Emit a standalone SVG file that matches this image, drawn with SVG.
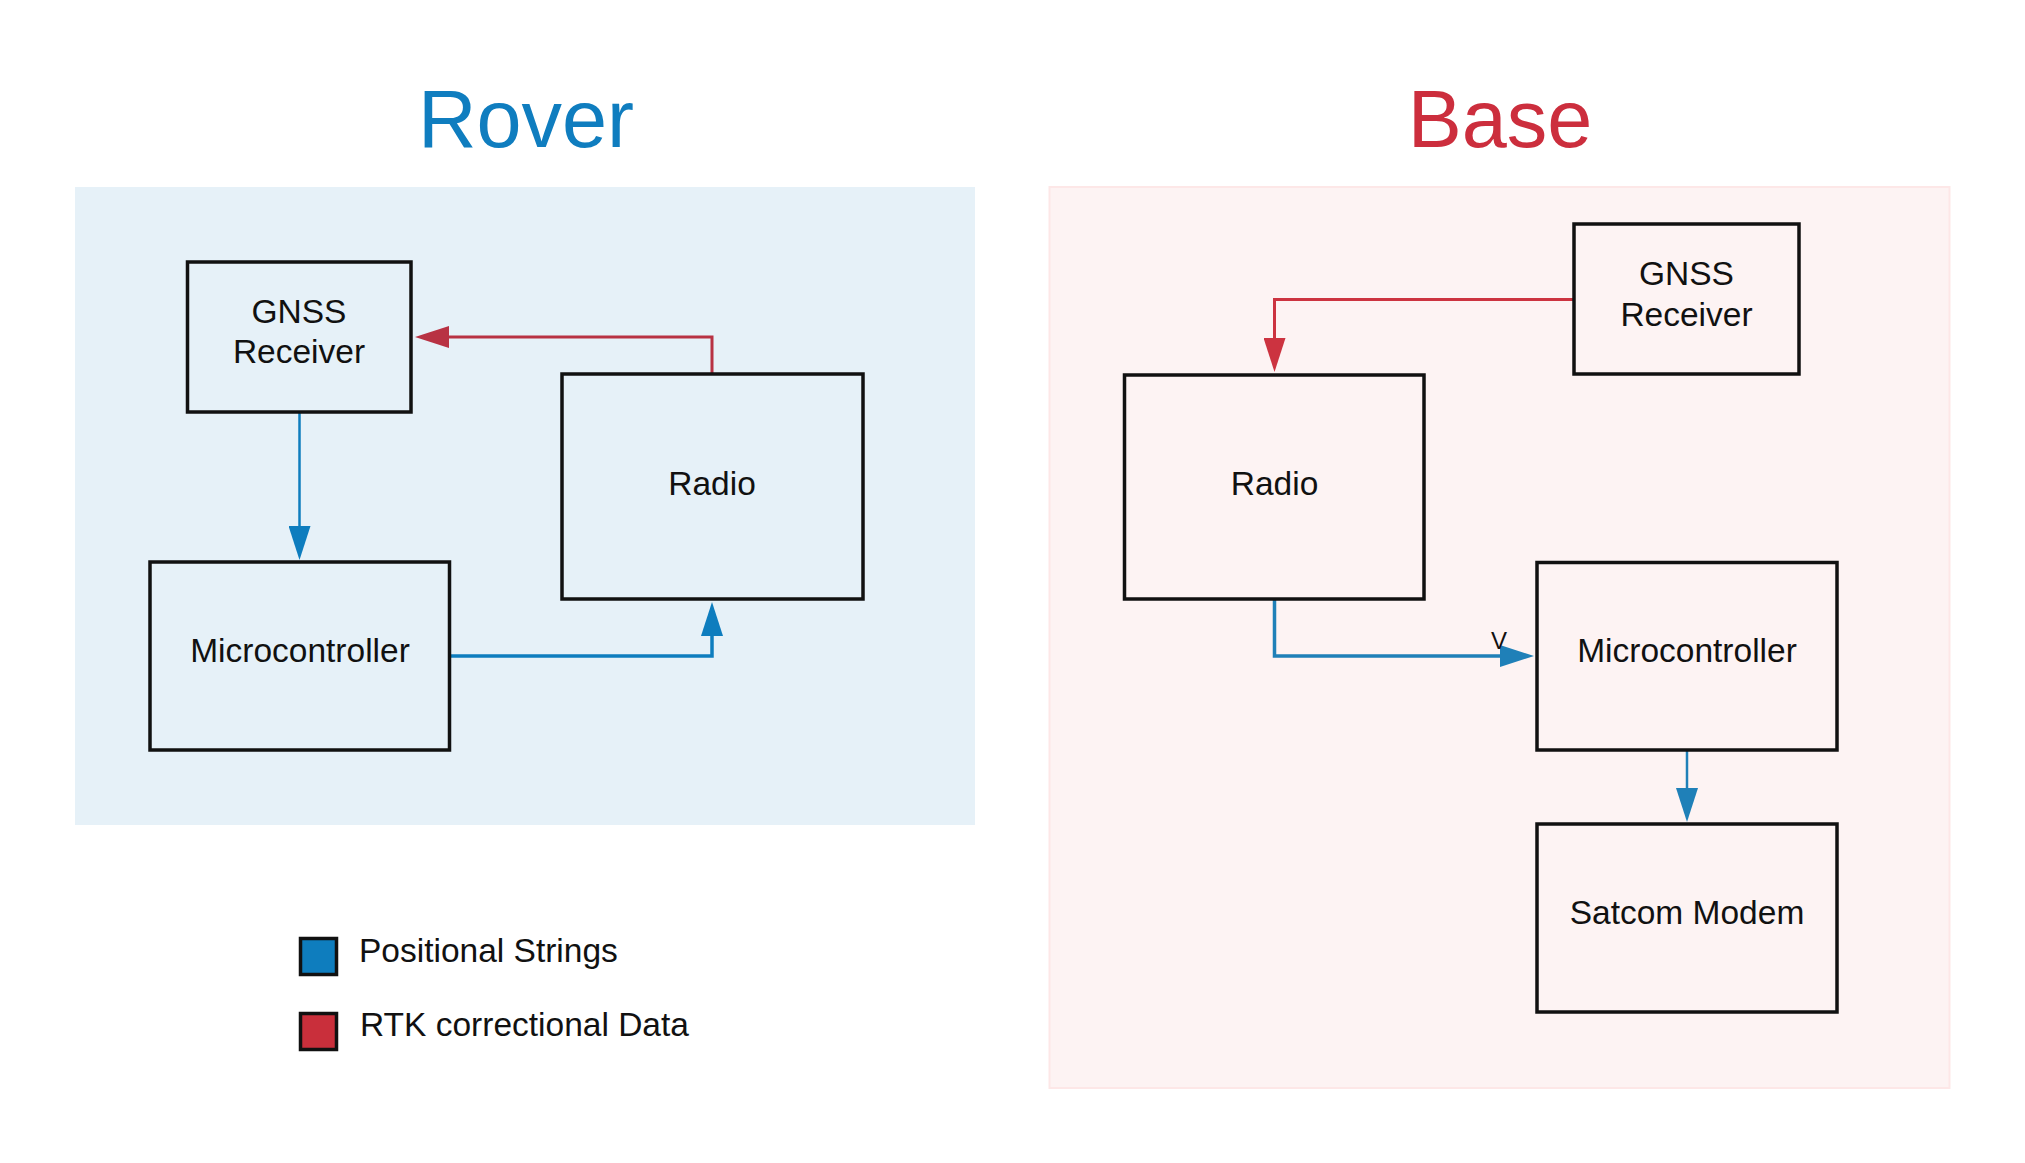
<svg xmlns="http://www.w3.org/2000/svg" width="2025" height="1163" viewBox="0 0 2025 1163">
  <style>
    .node { stroke: #111111; stroke-width: 3.5; }
    .lbl { font-family: "Liberation Sans", Arial, sans-serif; font-size: 33.5px; fill: #111111; text-anchor: middle; }
    .title { font-family: "Liberation Sans", Arial, sans-serif; font-size: 81px; text-anchor: middle; }
    .leg { font-family: "Liberation Sans", Arial, sans-serif; font-size: 33.5px; fill: #111111; }
    .tag { font-family: "Liberation Sans", Arial, sans-serif; font-size: 24px; fill: #111111; }
    .con { fill: none; }
  </style>
  <defs>
    <marker id="arrBlue" markerUnits="userSpaceOnUse" markerWidth="34" markerHeight="22" refX="0" refY="11" orient="auto" viewBox="0 0 34 22">
      <path d="M0,0 L34,11 L0,22 Z" fill="#0e7dbe"/>
    </marker>
    <marker id="arrBlue2" markerUnits="userSpaceOnUse" markerWidth="34" markerHeight="22" refX="0" refY="11" orient="auto" viewBox="0 0 34 22">
      <path d="M0,0 L34,11 L0,22 Z" fill="#1f80b8"/>
    </marker>
    <marker id="arrRed" markerUnits="userSpaceOnUse" markerWidth="34" markerHeight="22" refX="0" refY="11" orient="auto" viewBox="0 0 34 22">
      <path d="M0,0 L34,11 L0,22 Z" fill="#b83243"/>
    </marker>
    <marker id="arrRed2" markerUnits="userSpaceOnUse" markerWidth="34" markerHeight="22" refX="0" refY="11" orient="auto" viewBox="0 0 34 22">
      <path d="M0,0 L34,11 L0,22 Z" fill="#cc3340"/>
    </marker>
  </defs>
  <rect width="2025" height="1163" fill="#ffffff"/>

  <g id="rover-panel">
    <rect x="75" y="187" width="900" height="638" fill="#e6f1f8"/>
    <text class="title" x="526" y="147" fill="#0f7dbf">Rover</text>
  </g>
  <g id="base-panel">
    <rect x="1049.5" y="187" width="900" height="901" fill="#fdf3f3" stroke="#fde7e7" stroke-width="2"/>
    <text class="title" x="1500" y="147" fill="#cc2e3d">Base</text>
  </g>

  <g id="connectors">
    <path class="con" d="M712,374 V337 H449" stroke="#b83243" stroke-width="3" marker-end="url(#arrRed)"/>
    <path class="con" d="M299.5,412 V526" stroke="#0e7dbe" stroke-width="2.5" marker-end="url(#arrBlue)"/>
    <path class="con" d="M449.5,656 H712 V636" stroke="#0e7dbe" stroke-width="3.5" marker-end="url(#arrBlue)"/>
    <path class="con" d="M1574,299.5 H1274.5 V338" stroke="#cc3340" stroke-width="3" marker-end="url(#arrRed2)"/>
    <path class="con" d="M1274.5,599 V656 H1500" stroke="#1f80b8" stroke-width="3.5" marker-end="url(#arrBlue2)"/>
    <path class="con" d="M1687,750 V788" stroke="#1f80b8" stroke-width="2.5" marker-end="url(#arrBlue2)"/>
    <text class="tag" x="1491" y="649">V</text>
  </g>

  <g id="rover-gnss">
    <rect class="node" x="187.5" y="262" width="223.5" height="150" fill="#e6f1f8"/>
    <text class="lbl" x="299" y="322.7">GNSS</text>
    <text class="lbl" x="299" y="362.7">Receiver</text>
  </g>
  <g id="rover-radio">
    <rect class="node" x="562" y="374" width="301" height="225" fill="#e6f1f8"/>
    <text class="lbl" x="712" y="495">Radio</text>
  </g>
  <g id="rover-micro">
    <rect class="node" x="150" y="562" width="299.5" height="188" fill="#e6f1f8"/>
    <text class="lbl" x="300" y="662">Microcontroller</text>
  </g>

  <g id="base-gnss">
    <rect class="node" x="1574" y="224" width="225" height="150" fill="#fdf3f3"/>
    <text class="lbl" x="1686.5" y="285">GNSS</text>
    <text class="lbl" x="1686.5" y="325.5">Receiver</text>
  </g>
  <g id="base-radio">
    <rect class="node" x="1124.5" y="375" width="299.5" height="224" fill="#fdf3f3"/>
    <text class="lbl" x="1274.5" y="495">Radio</text>
  </g>
  <g id="base-micro">
    <rect class="node" x="1537" y="562.5" width="300" height="187.5" fill="#fdf3f3"/>
    <text class="lbl" x="1687" y="662">Microcontroller</text>
  </g>
  <g id="base-satcom">
    <rect class="node" x="1537" y="824" width="300" height="188" fill="#fdf3f3"/>
    <text class="lbl" x="1687" y="924">Satcom Modem</text>
  </g>

  <g id="legend">
    <rect x="300.5" y="938.5" width="36" height="36" fill="#0e7dbe" stroke="#111111" stroke-width="3.5"/>
    <text class="leg" x="359" y="962">Positional Strings</text>
    <rect x="300.5" y="1013.5" width="36" height="36" fill="#c92f3b" stroke="#111111" stroke-width="3.5"/>
    <text class="leg" x="360" y="1036">RTK correctional Data</text>
  </g>
</svg>
